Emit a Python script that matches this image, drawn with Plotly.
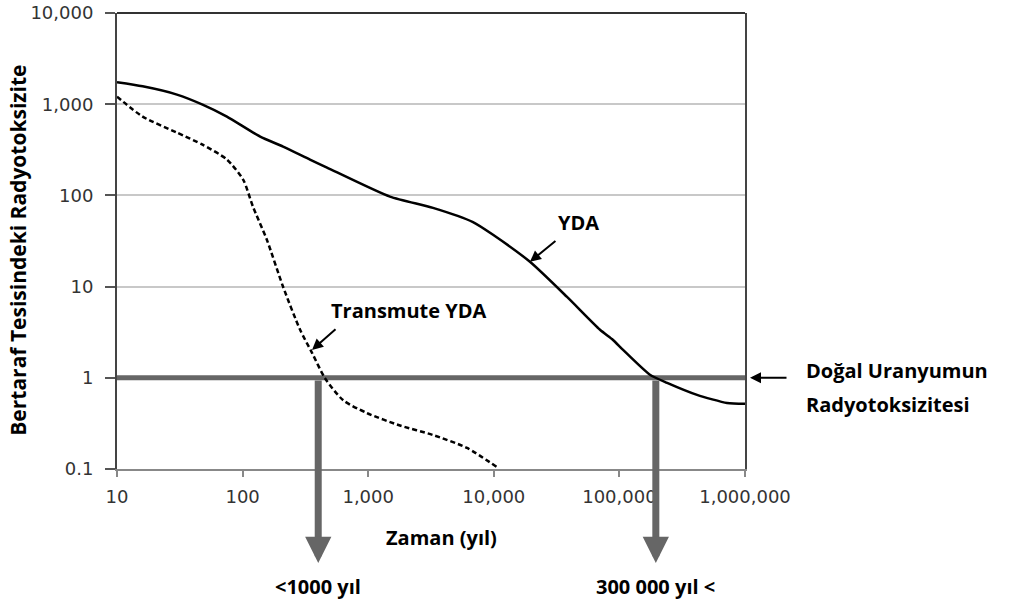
import math
import plotly.graph_objects as go

# --- data ---
yda_years = [10, 16, 30, 48, 75, 138, 210, 344, 470, 1490, 3280, 6830, 9860,
             19400, 38300, 70100, 89000, 107000, 175000, 240000, 415000, 720000, 1000000]
yda_tox = [1740, 1570, 1275, 990, 732, 441, 343, 247, 202, 97, 73, 51, 37,
           18.7, 7.7, 3.36, 2.6, 2.02, 1.08, 0.88, 0.65, 0.53, 0.52]

trans_years = [10, 16, 30, 48, 75, 101, 121, 156, 210, 287, 357, 453, 630, 977,
               1790, 3280, 6120, 10600]
trans_tox = [1210, 731, 488, 360, 247, 149, 75, 32.6, 9.96, 3.36, 1.88, 0.99, 0.57,
             0.41, 0.30, 0.236, 0.17, 0.105]

uranium_years = [10, 1000000]
uranium_tox = [1, 1]

cross_years = [400, 195000]          # where the curves reach natural uranium level
cross_labels = ["<1000 yıl", "300 000 yıl <"]

yda_arrow_point = (19400, 18.7)
trans_arrow_point = (357, 2.02)

x_tickvals = [10, 100, 1000, 10000, 100000, 1000000]
x_ticktext = ["10", "100", "1,000", "10,000", "100,000", "1,000,000"]
y_tickvals = [0.1, 1, 10, 100, 1000, 10000]
y_ticktext = ["0.1", "1", "10", "100", "1,000", "10,000"]

GREY = "#666666"
LABEL_FONT = dict(family="Open Sans", size=20, color="black")
TICK_FONT = dict(family="DejaVu Sans", size=18, color="#333333")
L = math.log10

fig = go.Figure()

fig.add_trace(go.Scatter(x=uranium_years, y=uranium_tox, mode="lines",
                         line=dict(color=GREY, width=5), hoverinfo="skip"))
fig.add_trace(go.Scatter(x=trans_years, y=trans_tox, mode="lines",
                         line=dict(color="black", width=2.5, dash="5px,3px",
                                   shape="spline", smoothing=0.7)))
fig.add_trace(go.Scatter(x=yda_years, y=yda_tox, mode="lines",
                         line=dict(color="black", width=2.5,
                                   shape="spline", smoothing=0.6)))


def px_to_paper_x(px):
    return (px - 117) / 628.0


def px_to_paper_y(py):
    return (469 - py) / 455.5


annotations = []
# big downward arrows from the natural uranium line
for yr, lab in zip(cross_years, cross_labels):
    annotations.append(dict(x=L(yr), y=px_to_paper_y(563), xref="x", yref="paper",
                            ax=0, ay=-184, axref="pixel", ayref="pixel",
                            text="", showarrow=True, arrowhead=2, arrowsize=0.75,
                            arrowwidth=7, arrowcolor=GREY, standoff=0))
    annotations.append(dict(x=L(yr), y=px_to_paper_y(586), xref="x", yref="paper",
                            text="<b>%s</b>" % lab, showarrow=False,
                            font=LABEL_FONT, yanchor="middle"))

# curve labels with small arrows
annotations += [
    dict(x=L(yda_arrow_point[0]), y=L(yda_arrow_point[1]), xref="x", yref="y",
         ax=27, ay=-22, axref="pixel", ayref="pixel", text="", showarrow=True,
         arrowhead=2, arrowsize=1.1, arrowwidth=2, arrowcolor="black"),
    dict(x=L(trans_arrow_point[0]), y=L(trans_arrow_point[1]), xref="x", yref="y",
         ax=25, ay=-22, axref="pixel", ayref="pixel", text="", showarrow=True,
         arrowhead=2, arrowsize=1.1, arrowwidth=2, arrowcolor="black"),
    dict(x=px_to_paper_x(750), y=L(uranium_tox[0]), xref="paper", yref="y",
         ax=38, ay=0, axref="pixel", ayref="pixel", text="", showarrow=True,
         arrowhead=2, arrowsize=1.1, arrowwidth=2, arrowcolor="black"),
]

text_labels = [
    ("<b>YDA</b>", 578, 223, "center"),
    ("<b>Transmute YDA</b>", 409, 311, "center"),
    ("<b>Doğal Uranyumun</b>", 804, 371, "left"),
    ("<b>Radyotoksizitesi</b>", 804, 405, "left"),
    ("<b>Zaman (yıl)</b>", 441, 537, "center"),
]
for txt, px, py, anchor in text_labels:
    annotations.append(dict(x=px_to_paper_x(px), y=px_to_paper_y(py),
                            xref="paper", yref="paper", text=txt,
                            showarrow=False, xanchor=anchor, yanchor="middle",
                            font=LABEL_FONT))

annotations.append(dict(x=px_to_paper_x(18), y=px_to_paper_y(251),
                        xref="paper", yref="paper",
                        text="<b>Bertaraf Tesisindeki Radyotoksizite</b>",
                        textangle=-90, showarrow=False,
                        xanchor="center", yanchor="middle",
                        font=dict(family="Open Sans", size=21, color="black")))

fig.update_layout(
    width=1011, height=604,
    margin=dict(l=117, r=266, t=13, b=135, autoexpand=False),
    paper_bgcolor="white", plot_bgcolor="white",
    showlegend=False,
    annotations=annotations,
    shapes=[dict(type="line", xref="paper", yref="paper", x0=0, x1=1, y0=1, y1=1,
                 line=dict(color="#333333", width=2))],
    xaxis=dict(type="log", range=[1, 6], tickvals=x_tickvals, ticktext=x_ticktext,
               showgrid=False, zeroline=False, showline=True, linecolor="#888888",
               linewidth=2, ticks="outside", ticklen=6, tickcolor="#888888",
               tickwidth=1.5, automargin=False, ticklabelstandoff=4,
               tickfont=TICK_FONT),
    yaxis=dict(type="log", range=[-1, 4], tickvals=y_tickvals, ticktext=y_ticktext,
               showgrid=True, gridcolor="#c8c8c8", gridwidth=1.5, zeroline=False,
               showline=True, linecolor="#444444", linewidth=2, mirror=True,
               ticks="outside", ticklen=10, tickcolor="#555555", tickwidth=1.5,
               ticklabelstandoff=8, automargin=False,
               tickfont=TICK_FONT),
)

fig.write_html("out.html", config={"displayModeBar": False},
               post_script="document.body.style.margin='0px';document.body.style.padding='0px';")
